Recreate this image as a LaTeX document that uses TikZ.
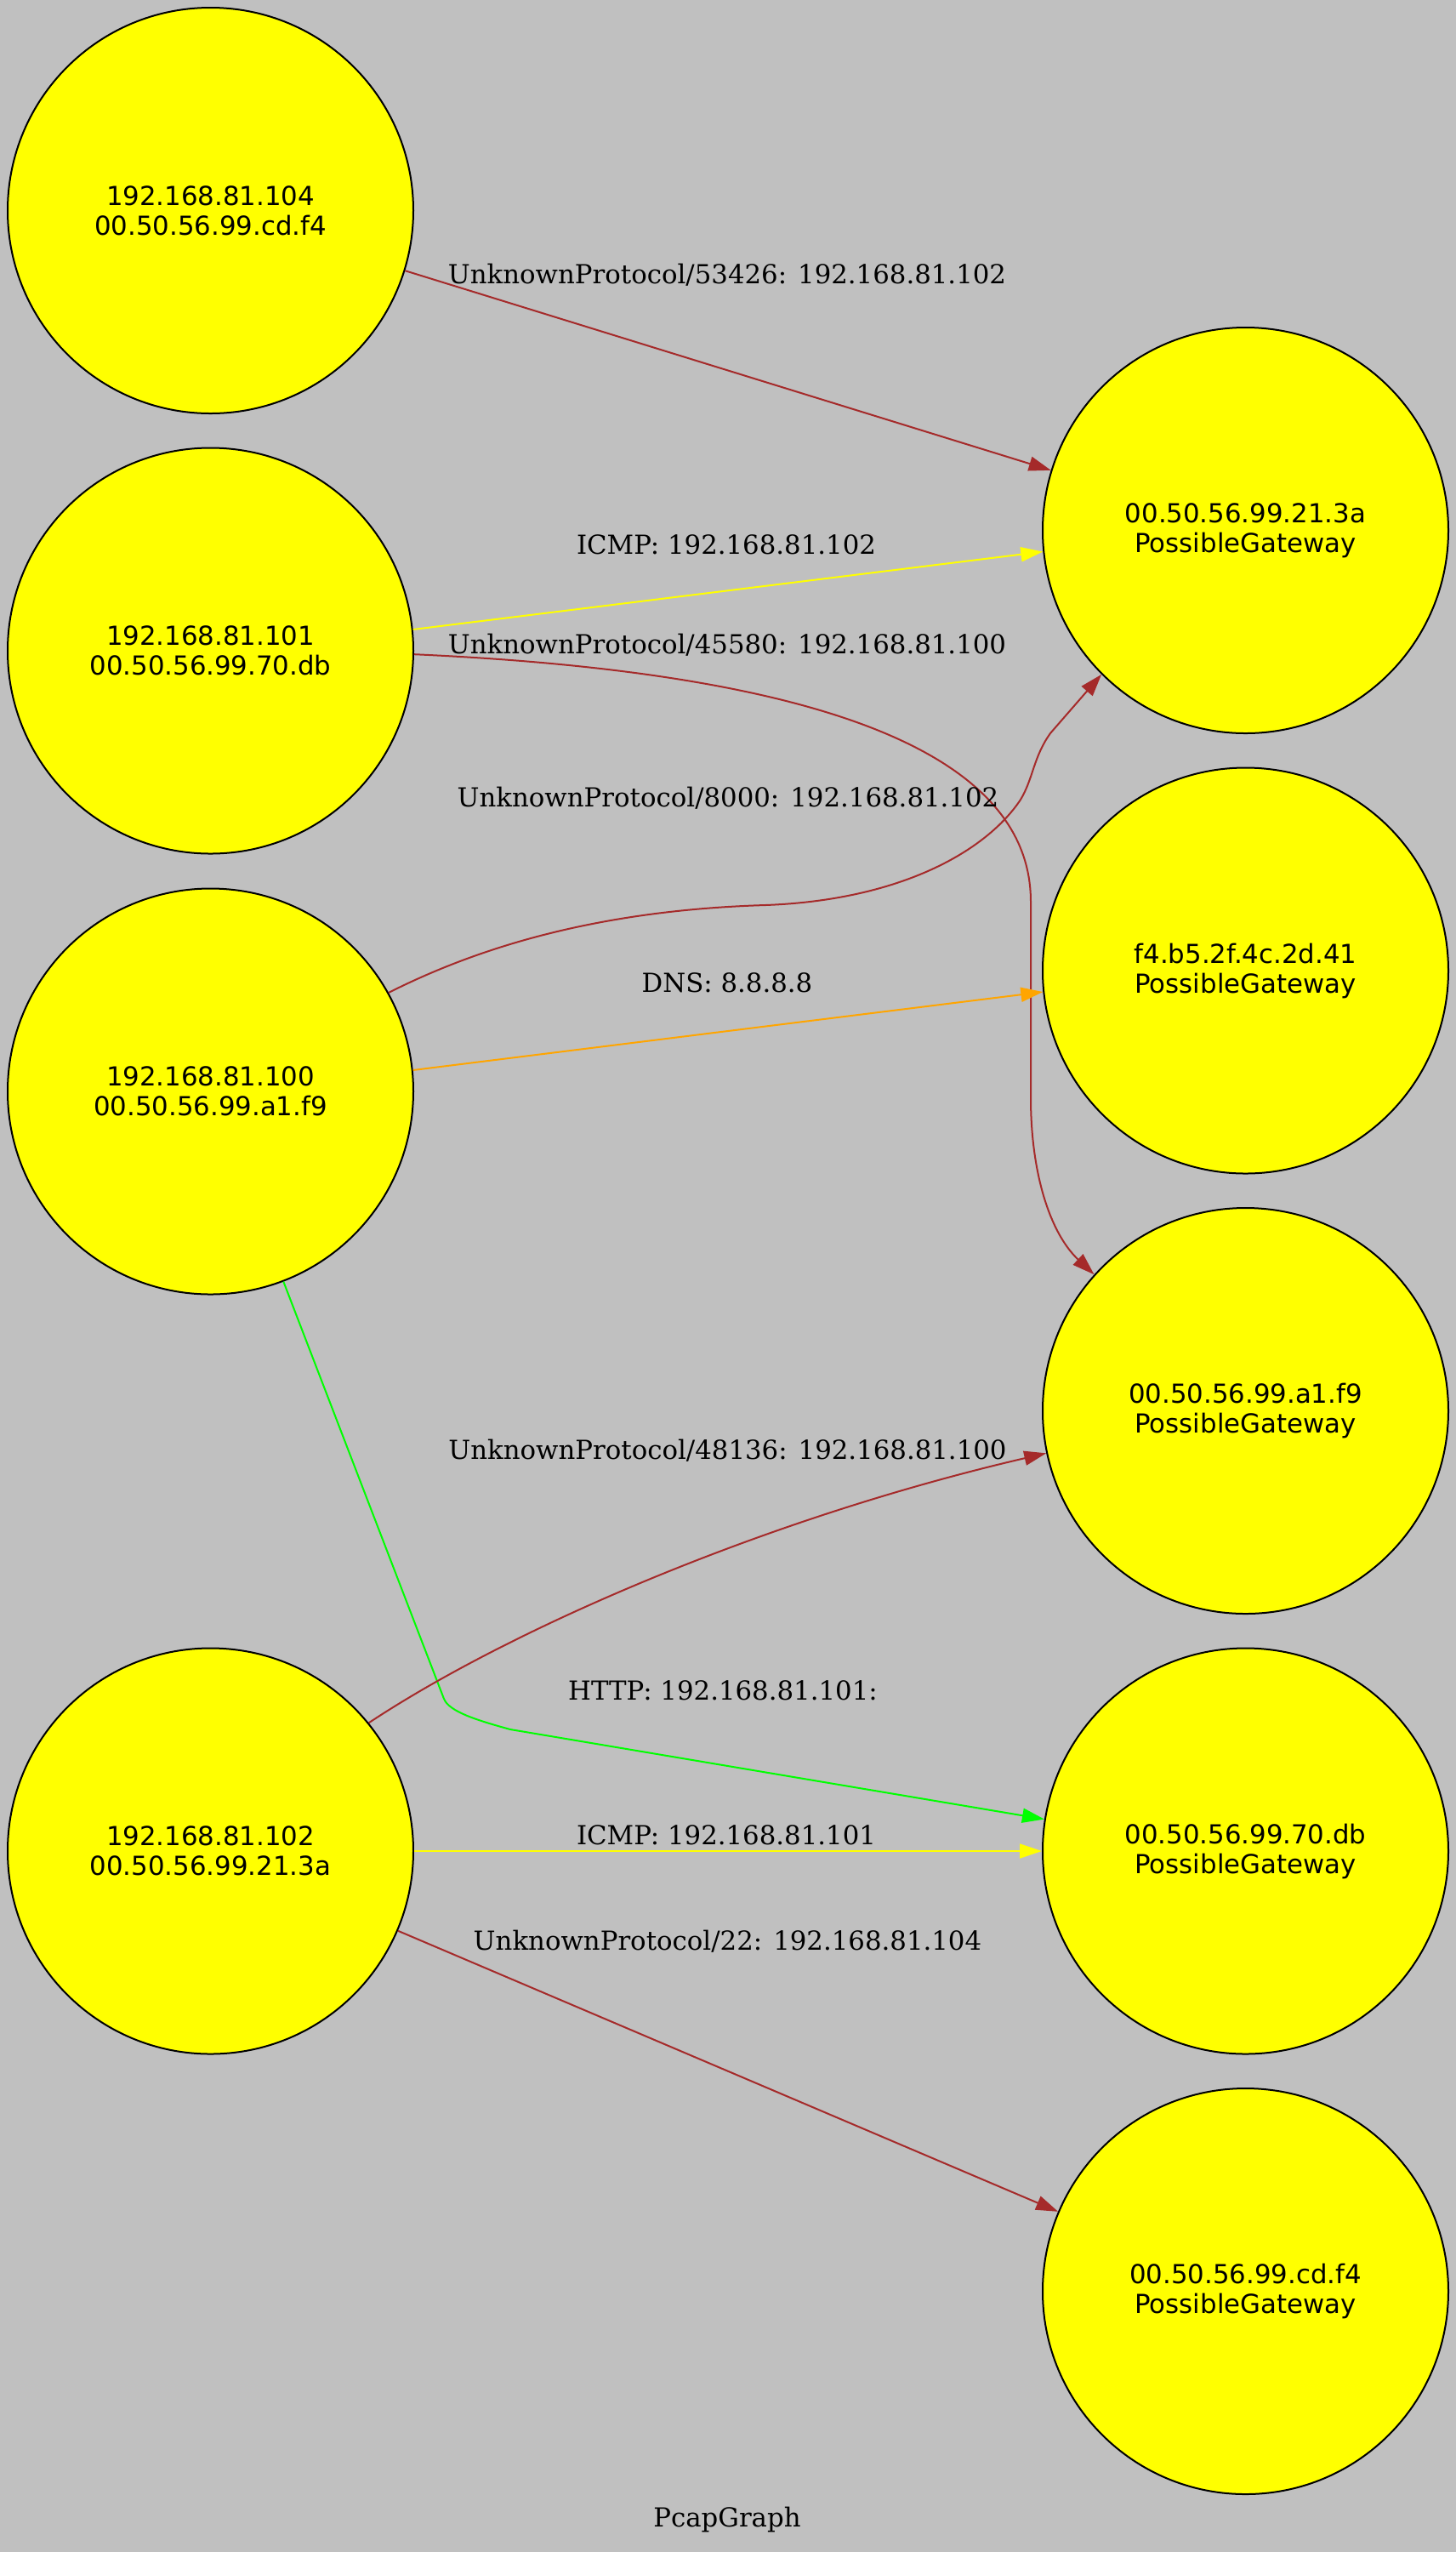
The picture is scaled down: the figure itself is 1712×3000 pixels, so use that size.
\documentclass[tikz,border=0pt]{standalone}
\usepackage{fontspec}
\newfontfamily\nodefont{DejaVu Sans}
\newfontfamily\edgefont{DejaVu Serif}
\usetikzlibrary{arrows.meta}
\definecolor{bg}{HTML}{C0C0C0}
\definecolor{ebrown}{HTML}{A52A2A}
\definecolor{eyellow}{HTML}{FFFF00}
\definecolor{eorange}{HTML}{FFA500}
\definecolor{egreen}{HTML}{00FF00}
\definecolor{nodefill}{HTML}{FFFF00}
\begin{document}
\begin{tikzpicture}[x=0.5pt,y=-0.5pt,
  host/.style={circle, draw=black, line width=1pt, fill=nodefill, minimum size=238.5pt, inner sep=0pt,
    font=\nodefont\fontsize{15.4}{17.5}\selectfont, align=center},
  elabel/.style={anchor=base, inner sep=0pt, font=\edgefont\fontsize{15.4}{17.5}\selectfont},
  conn/.style={line width=1pt, -{Triangle[length=13pt,width=8.5pt]}}
]
\fill[bg] (0,0) rectangle (1712,3000);
\useasboundingbox (0,0) rectangle (1712,3000);

\node[host] (h104) at (247.5,247.5) {192.168.81.104\\00.50.56.99.cd.f4};
\node[host] (h101) at (247.5,765) {192.168.81.101\\00.50.56.99.70.db};
\node[host] (h100) at (247.5,1283) {192.168.81.100\\00.50.56.99.a1.f9};
\node[host] (h102) at (247.5,2176) {192.168.81.102\\00.50.56.99.21.3a};
\node[host] (g213a) at (1464.5,623.5) {00.50.56.99.21.3a\\PossibleGateway};
\node[host] (gf4b5) at (1464.5,1141) {f4.b5.2f.4c.2d.41\\PossibleGateway};
\node[host] (ga1f9) at (1464.5,1658.5) {00.50.56.99.a1.f9\\PossibleGateway};
\node[host] (g70db) at (1464.5,2176) {00.50.56.99.70.db\\PossibleGateway};
\node[host] (gcdf4) at (1464.5,2693.5) {00.50.56.99.cd.f4\\PossibleGateway};

\draw[conn, ebrown] (h104) -- (g213a);
\draw[conn, eyellow] (h101.6.5) -- (g213a.186.7);
\draw[conn, ebrown] (h101.-1.9) .. controls (950,790) and (1212,880) .. (1212,1060)
  -- (1212,1290) .. controls (1212,1380) and (1235,1450) .. (ga1f9.138.1);
\draw[conn, ebrown] (h100.29.8) .. controls (560,1115) and (700,1070) .. (900,1064)
  .. controls (1060,1058) and (1160,1000) .. (1200,940)
  .. controls (1215,915) and (1215,890) .. (1235,862) -- (g213a.225.5);
\draw[conn, eorange] (h100.6.7) -- (gf4b5.186.7);
\draw[conn, egreen] (h100.-69.1) -- (522,1997) .. controls (528,2012) and (560,2022) .. (600,2033)
  -- (g70db.171.3);
\draw[conn, ebrown] (h102.39.6) .. controls (600,1915) and (900,1785) .. (ga1f9.192.7);
\draw[conn, eyellow] (h102) -- (g70db);
\draw[conn, ebrown] (h102) -- (gcdf4);

\node[elabel] (l1) at (855,333) {UnknownProtocol/53426: 192.168.81.102};
\node[elabel] (l2) at (854,651) {ICMP: 192.168.81.102};
\node[elabel] (l3) at (855,768.5) {UnknownProtocol/45580: 192.168.81.100};
\node[elabel] (l4) at (856,948) {UnknownProtocol/8000: 192.168.81.102};
\node[elabel] (l5) at (855,1166.5) {DNS: 8.8.8.8};
\node[elabel] (l6) at (855.5,1715.5) {UnknownProtocol/48136: 192.168.81.100};
\node[elabel] (l7) at (850,1998.5) {HTTP: 192.168.81.101:};
\node[elabel] (l8) at (854,2168) {ICMP: 192.168.81.101};
\node[elabel] (l9) at (855.5,2292) {UnknownProtocol/22: 192.168.81.104};
\node[elabel] (title) at (855,2970) {PcapGraph};
\end{tikzpicture}
\end{document}
